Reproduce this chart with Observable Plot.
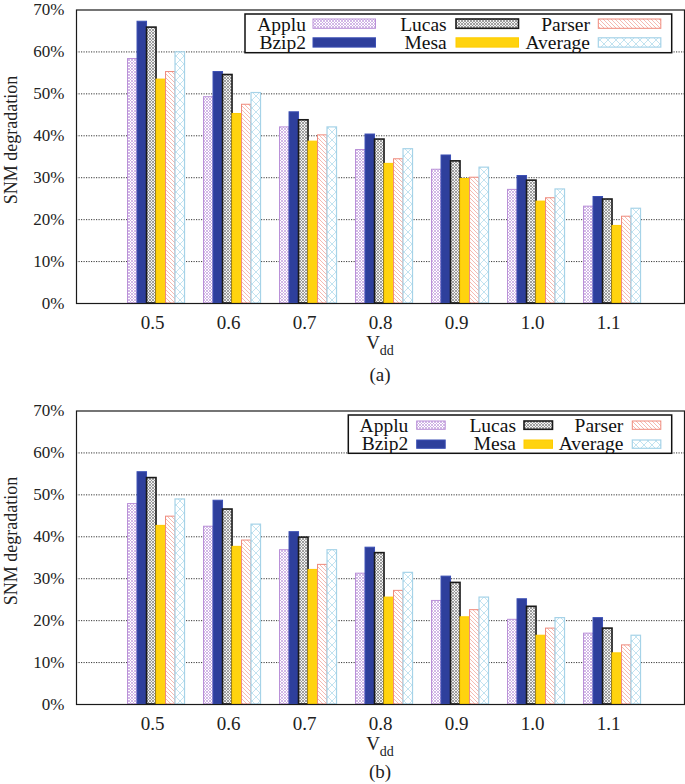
<!DOCTYPE html>
<html>
<head>
<meta charset="utf-8">
<script src="https://cdn.jsdelivr.net/npm/d3@7"></script>
<script src="https://cdn.jsdelivr.net/npm/@observablehq/plot@0.6"></script>
<style>
  html, body { margin: 0; padding: 0; background: #fff; }
  #root { width: 685px; }
  svg { display: block; }
  svg text { font-family: "Liberation Serif", "Times New Roman", Times, "DejaVu Serif", serif; }
</style>
</head>
<body>
<div id="root"></div>
<script>
// ---- data ----
const vdd = [0.5, 0.6, 0.7, 0.8, 0.9, 1.0, 1.1];
const seriesNames = ["Applu", "Bzip2", "Lucas", "Mesa", "Parser", "Average"];
const yTicks = [0, 10, 20, 30, 40, 50, 60, 70];

// chart (a)
const aApplu   = [58.3, 49.2, 42.0, 36.6, 31.9, 27.1, 23.1];
const aBzip2   = [67.2, 55.2, 45.6, 40.3, 35.3, 30.4, 25.4];
const aLucas   = [65.8, 54.5, 43.7, 39.1, 33.9, 29.3, 24.8];
const aMesa    = [53.4, 45.2, 38.6, 33.3, 29.7, 24.3, 18.5];
const aParser  = [55.2, 47.4, 40.1, 34.4, 30.0, 25.1, 20.7];
const aAverage = [59.9, 50.2, 42.0, 36.8, 32.4, 27.2, 22.6];

// chart (b)
const bApplu   = [47.8, 42.4, 36.8, 31.2, 24.7, 20.2, 16.9];
const bBzip2   = [55.4, 48.6, 41.1, 37.4, 30.5, 25.1, 20.6];
const bLucas   = [54.0, 46.5, 39.8, 36.1, 29.0, 23.3, 18.1];
const bMesa    = [42.6, 37.6, 32.1, 25.5, 20.8, 16.4, 12.2];
const bParser  = [44.8, 39.1, 33.3, 27.1, 22.5, 18.1, 14.1];
const bAverage = [48.9, 42.9, 36.8, 31.4, 25.5, 20.6, 16.4];

// ---- styles ----
const FONT = "Liberation Serif, Times New Roman, Times, DejaVu Serif, serif";
const styles = {
  Applu:   {fill: "applu",  stroke: "#b98fd8", sw: 1},
  Bzip2:   {fill: "#2e3f9c", stroke: "#3b4fb4", sw: 1},
  Lucas:   {fill: "lucas",  stroke: "#1a1a1a", sw: 1.6},
  Mesa:    {fill: "#ffd30f", stroke: "#ffcc00", sw: 1},
  Parser:  {fill: "parser", stroke: "#ef8a7c", sw: 1},
  Average: {fill: "avg",    stroke: "#a6d3e8", sw: 1.2}
};
const BAR_W = 0.0125;    // bar width in x units
const GROUP_OFF = -0.0322;

function addDefs(svg, p) {
  const defs = d3.select(svg).insert("defs", ":first-child");
  let pt = defs.append("pattern").attr("id", p + "applu").attr("patternUnits", "userSpaceOnUse").attr("width", 3).attr("height", 3);
  pt.append("rect").attr("width", 3).attr("height", 3).attr("fill", "#fff");
  pt.append("path").attr("d", "M0,0L3,3M3,0L0,3").attr("stroke", "#c7a6e0").attr("stroke-width", 0.8);

  pt = defs.append("pattern").attr("id", p + "lucas").attr("patternUnits", "userSpaceOnUse").attr("width", 3).attr("height", 3);
  pt.append("rect").attr("width", 3).attr("height", 3).attr("fill", "#f2f2f2");
  pt.append("path").attr("d", "M0,0L3,3M3,0L0,3").attr("stroke", "#8a8a8a").attr("stroke-width", 0.8);

  pt = defs.append("pattern").attr("id", p + "parser").attr("patternUnits", "userSpaceOnUse").attr("width", 4).attr("height", 4);
  pt.append("rect").attr("width", 4).attr("height", 4).attr("fill", "#fff");
  pt.append("path").attr("d", "M-1,-1L5,5M-1,3L1,5M3,-1L5,1").attr("stroke", "#f2a89e").attr("stroke-width", 0.8);

  pt = defs.append("pattern").attr("id", p + "avg").attr("patternUnits", "userSpaceOnUse").attr("width", 8).attr("height", 8);
  pt.append("rect").attr("width", 8).attr("height", 8).attr("fill", "#fff");
  pt.append("path").attr("d", "M0,0L8,8M8,0L0,8").attr("stroke", "#b3dcec").attr("stroke-width", 0.8);
}

function fillRef(p, f) {
  return f.startsWith("#") ? f : `url(#${p}${f})`;
}

function makeChart(p, seriesArrays, caption, legendSpec, h, capY) {
  const marks = [
    Plot.gridY(yTicks.slice(1, -1), {stroke: "#222", strokeOpacity: 0.9, strokeDasharray: "1.2,1.3", strokeWidth: 1})
  ];
  seriesNames.forEach((name, i) => {
    const rows = vdd.map((v, j) => ({v, val: seriesArrays[i][j]}));
    const st = styles[name];
    marks.push(Plot.rectY(rows, {
      x1: d => d.v + GROUP_OFF + i * BAR_W,
      x2: d => d.v + GROUP_OFF + (i + 1) * BAR_W,
      y1: 0,
      y2: "val",
      fill: fillRef(p, st.fill),
      stroke: st.stroke,
      strokeWidth: st.sw
    }));
  });
  marks.push(Plot.frame({stroke: "#1a1a1a", strokeWidth: 1.2}));
  marks.push(Plot.axisY(yTicks, {tickSize: 0, tickPadding: 12, fontSize: 17, tickFormat: d => d + "%", fill: "#222"}));
  marks.push(Plot.axisX(vdd, {tickSize: 0, tickPadding: 12, fontSize: 19, tickFormat: d3.format(".1f"), fill: "#222"}));

  const svg = Plot.plot({
    width: 685,
    height: h,
    marginLeft: 76,
    marginRight: 1,
    marginTop: 9.5,
    marginBottom: h - 303,
    style: {fontFamily: FONT, background: "#fff", color: "#222"},
    x: {domain: [0.4, 1.2], label: null},
    y: {domain: [0, 70], label: null},
    marks
  });
  addDefs(svg, p);
  const s = d3.select(svg);

  // y label
  s.append("text")
    .attr("transform", "translate(17,140) rotate(-90)")
    .attr("text-anchor", "middle")
    .style("font-family", FONT).attr("font-size", 18).attr("fill", "#222")
    .text("SNM degradation");

  // x label V_dd
  const xl = s.append("text")
    .attr("x", 380).attr("y", 349)
    .attr("text-anchor", "middle")
    .style("font-family", FONT).attr("font-size", 19).attr("fill", "#222");
  xl.append("tspan").text("V");
  xl.append("tspan").attr("font-size", 14).attr("dy", 6).text("dd");

  // caption
  s.append("text")
    .attr("x", 380).attr("y", capY)
    .attr("text-anchor", "middle")
    .style("font-family", FONT).attr("font-size", 19).attr("fill", "#222")
    .text(caption);

  // legend
  const L = legendSpec;
  const g = s.append("g");
  g.append("rect").attr("x", L.box[0]).attr("y", L.box[1]).attr("width", L.box[2] - L.box[0]).attr("height", L.box[3] - L.box[1])
    .attr("fill", "#fff").attr("stroke", "#111").attr("stroke-width", 1.5);
  seriesNames.forEach((name, i) => {
    const col = Math.floor(i / 2), row = i % 2;
    const st = styles[name];
    g.append("text").attr("x", L.textEnd[col]).attr("y", L.base[row])
      .attr("text-anchor", "end").style("font-family", FONT).attr("font-size", 19.5).attr("fill", "#111")
      .text(name);
    g.append("rect").attr("x", L.swX[col]).attr("y", L.swY[row]).attr("width", L.swW).attr("height", L.swH)
      .attr("fill", fillRef(p, st.fill)).attr("stroke", st.stroke).attr("stroke-width", st.sw);
  });
  return svg;
}

const root = document.getElementById("root");
root.appendChild(makeChart("a-", [aApplu, aBzip2, aLucas, aMesa, aParser, aAverage], "(a)", {
  box: [245, 14, 671.7, 52.7],
  textEnd: [306, 446.7, 590],
  swX: [313, 456, 598.3],
  swW: 62.5, swH: 9.3,
  swY: [19, 37.8],
  base: [30.8, 48.6]
}, 401, 381));
root.appendChild(makeChart("b-", [bApplu, bBzip2, bLucas, bMesa, bParser, bAverage], "(b)", {
  box: [348.3, 14, 671.7, 52.3],
  textEnd: [408.3, 516, 623.3],
  swX: [416.7, 524, 632.3],
  swW: 28.5, swH: 8.3,
  swY: [20, 39],
  base: [30.8, 49]
}, 383, 377));
</script>
</body>
</html>
